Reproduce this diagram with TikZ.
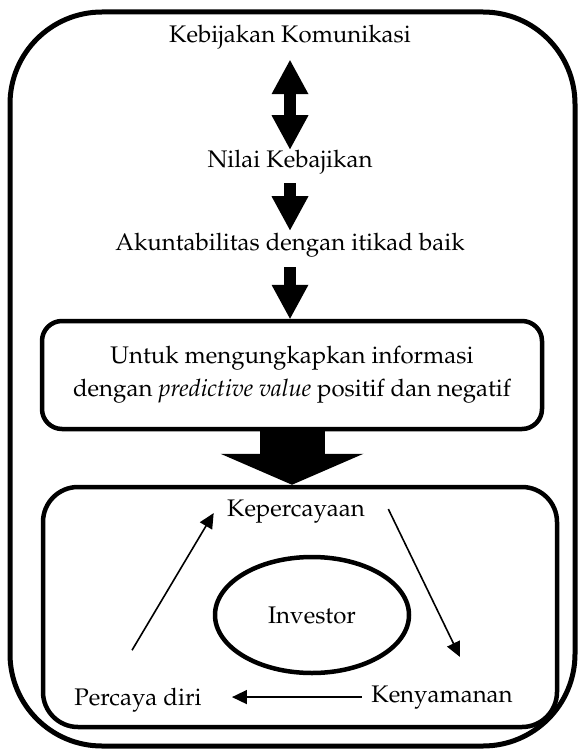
\documentclass[tikz,border=0pt]{standalone}
\usepackage[T1]{fontenc}
\usepackage{mathpazo}
\usepackage{tikz}
\usetikzlibrary{arrows.meta,shapes.geometric,calc,positioning}
\tikzstyle{every node}=[font=\fontsize{12}{16.5}\selectfont]
\tikzstyle{label text}=[inner sep=0pt, anchor=base]
\tikzstyle{panel}=[draw, line width=2.25pt, rounded corners=10pt]
\tikzstyle{thick arrow}=[line width=6pt, >={Triangle[length=17pt,width=18.5pt,line width=0pt]}]
\tikzstyle{big arrow}=[line width=32.5pt, -{Triangle[length=15.5pt,width=71.5pt,line width=0pt]}]
\tikzstyle{cycle arrow}=[line width=0.8pt, -{Triangle[length=7.5pt,width=7pt]}]

\begin{document}
\begin{tikzpicture}[x=0.5pt,y=-0.5pt]
\def\midx{290}
\def\boxx{292}
\useasboundingbox (0,0) rectangle (580,749);

	% Frame
    \draw[line width=2.5pt, rounded corners=46pt] (10,12) rectangle (575,746);

	% Policy chain
    \node[label text] (kebijakan) at (\midx,43) {Kebijakan Komunikasi};
    \node[label text] (nilai) at (\midx,167) {Nilai Kebajikan};
    \node[label text] (akuntabilitas) at (\midx,250) {Akuntabilitas dengan itikad baik};
    \node[panel, minimum width=250pt, minimum height=54pt, align=center] (ungkap) at (\boxx,375)
        {Untuk mengungkapkan informasi\\dengan \textit{predictive value} positif dan negatif};

	% Investor cycle
    \node[panel, rounded corners=17.5pt, minimum width=257pt, minimum height=120pt] (siklus) at (300,607) {};
    \node[draw, ellipse, line width=2.25pt, minimum width=97pt, minimum height=58pt] (investor) at (312,615) {Investor};
    \node[label text] (keper) at (296,516) {Kepercayaan};
    \node[label text] (kenyamanan) at (442,702) {Kenyamanan};
    \node[label text] (percaya) at (138,705) {Percaya diri};

	% Chain -> box
    \draw[thick arrow, <->, shorten <=5pt] (kebijakan) -- (nilai);
    \draw[thick arrow, ->, shorten <=4.5pt, shorten >=1pt] (nilai) -- (akuntabilitas);
    \draw[thick arrow, ->, shorten <=5pt] (akuntabilitas) -- (akuntabilitas |- ungkap.north);
    \draw[big arrow] (ungkap.south) -- (ungkap.south |- siklus.north);

    \draw[cycle arrow] ([shift={(-6,-37)}]percaya.north) -- ([shift={(-13,2)}]keper.west);
    \draw[cycle arrow] ([shift={(23,-2)}]keper.east) -- ([shift={(18,-28)}]kenyamanan.north);
    \draw[cycle arrow, shorten <=4.5pt, shorten >=15pt] (kenyamanan.west) -- (kenyamanan.west -| percaya.east);

\end{tikzpicture}
\end{document}
